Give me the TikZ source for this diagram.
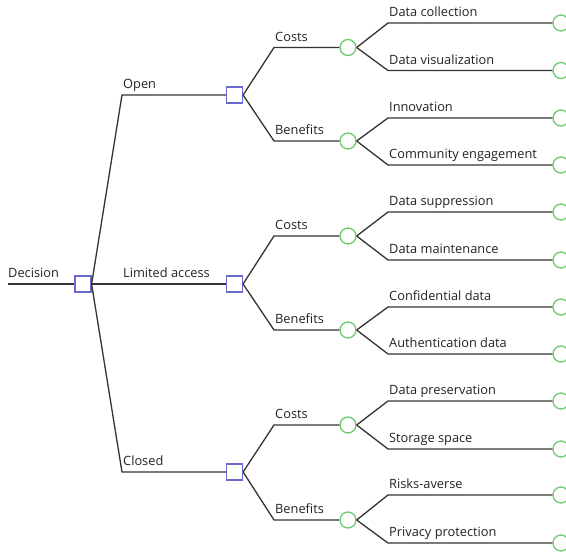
\documentclass[tikz,border=0pt]{standalone}
\usepackage{fontspec}
\setmainfont{Open Sans}
\definecolor{decblue}{HTML}{6A6ACF}
\definecolor{chgreen}{HTML}{6CCB6C}
\definecolor{linegray}{HTML}{333333}
\definecolor{txtgray}{HTML}{222222}
\begin{document}
\begin{tikzpicture}[x=1pt,y=-1pt,
  dec/.style={draw=decblue, line width=1.2pt, minimum size=16pt, inner sep=0pt, fill=white},
  chance/.style={circle, draw=chgreen, line width=1.3pt, minimum size=16pt, inner sep=0pt, fill=white},
  edge/.style={draw=linegray, line width=1.3pt},
  lbl/.style={anchor=base west, inner sep=0pt, font=\fontsize{12.8}{14}\selectfont, text=txtgray}]
\useasboundingbox (0,0) rectangle (566,552);
\clip (0,0) rectangle (566,552);
% root
\coordinate (start) at (8,284);
\node[dec] (D) at (83,284) {};
\draw[edge] (start) -- (D.west);
\node[lbl] (tD) at (8,277) {Decision};
% first level
\foreach \n/\y/\lab in {O/95/Open, L/284/Limited access, C/472/Closed}{
  \coordinate (k\n) at (122,\y);
  \node[dec] (\n) at (234.5,\y) {};
  \draw[edge] (D.east) -- (k\n) -- (\n.west);
  \node[lbl] (t\n) at (123,\y-6.5) {\lab};
}
% chance level
\foreach \p/\n/\y/\lab in {O/OC/47.5/Costs, O/OB/141/Benefits, L/LC/236/Costs, L/LB/330/Benefits, C/CC/425/Costs, C/CB/520/Benefits}{
  \coordinate (k\n) at (274,\y);
  \node[chance] (\n) at (348,\y) {};
  \draw[edge] (\p.east) -- (k\n) -- (\n.west);
  \node[lbl] (t\n) at (275,\y-6.5) {\lab};
}
% leaves
\foreach \p/\n/\y/\lab in {OC/A1/23/Data collection, OC/A2/70.5/Data visualization,
  OB/A3/118/Innovation, OB/A4/165/Community engagement,
  LC/A5/212/Data suppression, LC/A6/260/Data maintenance,
  LB/A7/307/Confidential data, LB/A8/354/Authentication data,
  CC/A9/401/Data preservation, CC/A10/449/Storage space,
  CB/A11/495/Risks-averse, CB/A12/543/Privacy protection}{
  \coordinate (k\n) at (388,\y);
  \node[chance] (\n) at (561,\y) {};
  \draw[edge] (\p.east) -- (k\n) -- (\n.west);
  \node[lbl] (t\n) at (389,\y-6.5) {\lab};
}
\end{tikzpicture}
\end{document}
